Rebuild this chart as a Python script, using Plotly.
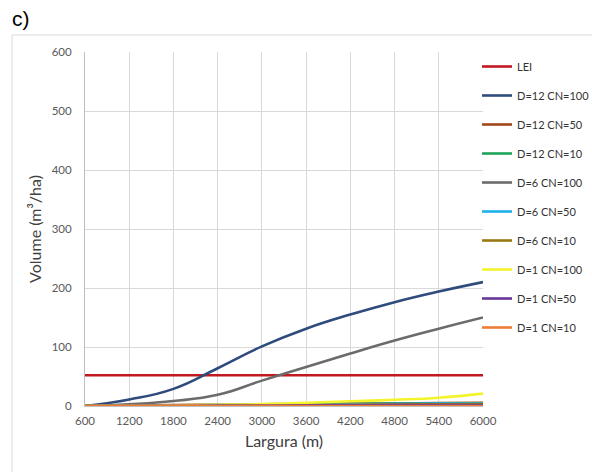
import plotly.graph_objects as go

largura = [600, 1200, 1800, 2400, 3000, 3600, 4200, 4800, 5400, 6000]

lei = [52] * len(largura)
d12_cn100 = [0, 11, 29, 64, 101, 131, 155, 176, 194, 210]
d12_cn50 = [0, 0.8, 1.5, 2.2, 3, 3.5, 4, 4.5, 5, 5.3]
d12_cn10 = [0, 0.5, 1, 1.6, 2.2, 2.8, 3.3, 3.8, 4.2, 4.6]
d6_cn100 = [0, 3, 8.5, 19, 43, 66, 89, 111, 131, 150]
d6_cn50 = [0, 0.4, 0.9, 1.4, 2, 2.6, 3.1, 3.6, 4, 4.3]
d6_cn10 = [0, 0.3, 0.6, 1, 1.4, 1.8, 2.2, 2.6, 3, 3.3]
d1_cn100 = [0, 0.6, 1.2, 2, 3.2, 5.5, 8, 10.5, 14, 21]
d1_cn50 = [0, 0.2, 0.4, 0.6, 0.8, 1, 1.2, 1.4, 1.6, 1.8]
d1_cn10 = [0, 0.1, 0.1, 0.1, 0.1, 0.1, 0.1, 0.1, 0.1, 0.1]

series = [
    ("LEI", lei, "#C0191F"),
    ("D=12 CN=100", d12_cn100, "#2F4B7C"),
    ("D=12 CN=50", d12_cn50, "#A0481A"),
    ("D=12 CN=10", d12_cn10, "#1FA45A"),
    ("D=6 CN=100", d6_cn100, "#6B6B6B"),
    ("D=6 CN=50", d6_cn50, "#1FB0EA"),
    ("D=6 CN=10", d6_cn10, "#9A7A10"),
    ("D=1 CN=100", d1_cn100, "#F4F42A"),
    ("D=1 CN=50", d1_cn50, "#6A359A"),
    ("D=1 CN=10", d1_cn10, "#EE7D35"),
]

fig = go.Figure()
for i, (name, ys, col) in enumerate(series):
    fig.add_trace(go.Scatter(
        x=largura, y=ys, name=name, mode="lines",
        line=dict(color=col, width=2.6, shape="linear" if name == "LEI" else "spline",
                  smoothing=1.3),
        legendgroup=f"g{i}",
    ))

font_main = "Lato, Calibri, Arial, sans-serif"

fig.update_layout(
    width=592, height=472,
    margin=dict(l=85, r=109, t=52, b=66, autoexpand=False),
    paper_bgcolor="white", plot_bgcolor="white",
    font=dict(family=font_main, color="#595959", size=11),
    showlegend=True,
    legend=dict(
        x=0.985, xanchor="left", y=1.0, yanchor="top",
        font=dict(family=font_main, size=11, color="#333333"),
        tracegroupgap=10, traceorder="grouped",
        bgcolor="rgba(0,0,0,0)", itemwidth=30,
    ),
    xaxis=dict(
        range=[600, 6000], tickmode="array", tickvals=largura,
        ticktext=[str(v) for v in largura],
        showgrid=True, gridcolor="#D9D9D9", gridwidth=1,
        showline=True, linecolor="#BFBFBF", linewidth=1,
        ticks="outside", ticklen=4, tickcolor="rgba(0,0,0,0)",
        zeroline=False,
        tickfont=dict(family=font_main, size=11.5, color="#595959"),
        title=dict(text="Largura (m)", font=dict(family=font_main, size=16, color="#404040"), standoff=10),
    ),
    yaxis=dict(
        range=[0, 600], tickmode="linear", tick0=0, dtick=100,
        showgrid=True, gridcolor="#D9D9D9", gridwidth=1,
        showline=True, linecolor="#BFBFBF", linewidth=1,
        ticks="outside", ticklen=10, tickcolor="rgba(0,0,0,0)",
        zeroline=False,
        tickfont=dict(family=font_main, size=11.5, color="#595959"),
        title=dict(text="Volume (m³/ha)", font=dict(family=font_main, size=16, color="#404040"), standoff=6),
    ),
    shapes=[dict(
        type="rect", xref="paper", yref="paper",
        x0=(12 - 85) / 398, x1=1.6, y0=-0.5, y1=(406 - 35) / 354,
        line=dict(color="#D9D9D9", width=1), fillcolor="rgba(0,0,0,0)", layer="below",
    )],
    annotations=[dict(
        text="c)", xref="paper", yref="paper",
        x=(10 - 85) / 398, y=(406 - 18) / 354, xanchor="left", yanchor="middle",
        showarrow=False, font=dict(family="Liberation Sans, Arial, sans-serif", size=21, color="#000000"),
    )],
)

fig.write_html("out.html")
